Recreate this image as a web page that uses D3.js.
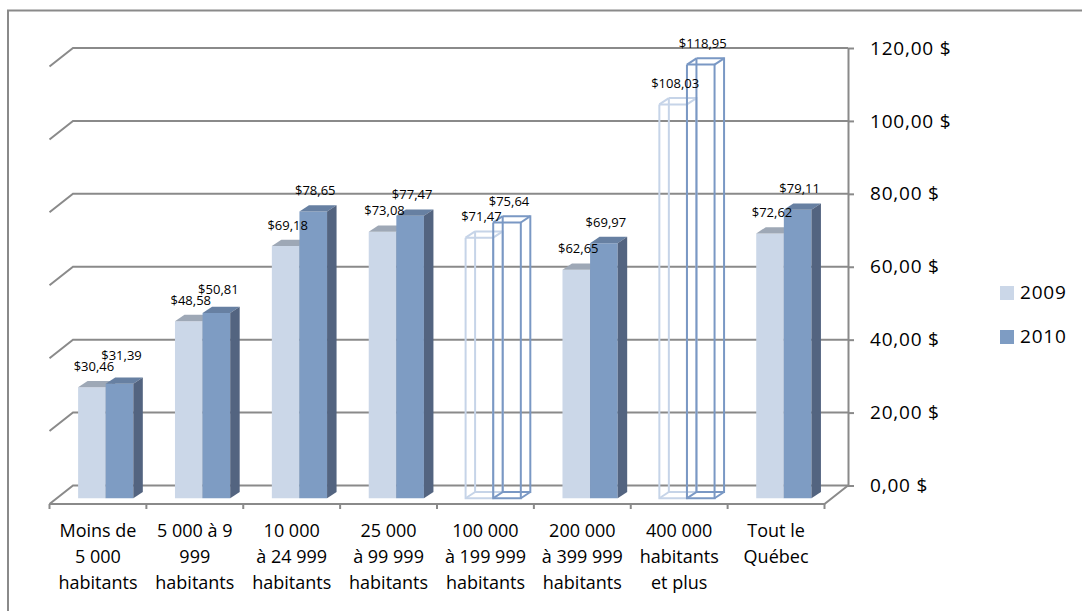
<!DOCTYPE html>
<html>
<head>
<meta charset="utf-8">
<script src="https://cdn.jsdelivr.net/npm/d3@7"></script>
<style>
body { margin: 0; background: #fff; }
text { font-family: "Open Sans", sans-serif; fill: #000; }
</style>
</head>
<body>
<script>
// data
var categories = ["Moins de 5 000 habitants", "5 000 à 9 999 habitants", "10 000 à 24 999 habitants",
  "25 000 à 99 999 habitants", "100 000 à 199 999 habitants", "200 000 à 399 999 habitants",
  "400 000 habitants et plus", "Tout le Québec"];
var categoryLines = [["Moins de", "5 000", "habitants"], ["5 000 à 9", "999", "habitants"],
  ["10 000", "à 24 999", "habitants"], ["25 000", "à 99 999", "habitants"],
  ["100 000", "à 199 999", "habitants"], ["200 000", "à 399 999", "habitants"],
  ["400 000", "habitants", "et plus"], ["Tout le", "Québec"]];
var series = ["2009", "2010"];
var values2009 = [30.46, 48.58, 69.18, 73.08, 71.47, 62.65, 108.03, 72.62];
var values2010 = [31.39, 50.81, 78.65, 77.47, 75.64, 69.97, 118.95, 79.11];
var yTicks = [0, 20, 40, 60, 80, 100, 120];
// these two are drawn only as wire boxes in the original
var hollowCategories = ["100 000 à 199 999 habitants", "400 000 habitants et plus"];

var width = 1082, height = 611;
var wallLeft = 73, wallRight = 848, wallTop = 48, wallBottom = 485.5;
var depthX = -23.5, depthY = 18.5;   // back wall -> front edge of floor
var barZ = 0.69;                      // where the bars' front faces sit
var barDX = 9.5, barDY = -6.3;        // bar depth

var faceColors = {
  "2009": {front: "#cbd7e8", top: "#9ea8b6", side: "#8593a8", wire: "#c6d4e8"},
  "2010": {front: "#7e9cc3", top: "#6780a2", side: "#536480", wire: "#7a98c4"}
};

var rows = categories.map(function(c, i) {
  return {cat: c, lines: categoryLines[i], vals: {"2009": values2009[i], "2010": values2010[i]}};
});

var svg = d3.select('body').append('svg').attr('width', width).attr('height', height);

svg.append('rect').attr('x', 8).attr('y', 10.5).attr('width', 1200).attr('height', 800)
  .style('fill', 'none').style('stroke', '#8a8a8a').style('stroke-width', 2);

var x = d3.scaleBand().domain(categories).range([wallLeft, wallRight]);
var bw = x.bandwidth();
var xs = d3.scaleBand().domain(series).range([bw * 0.22, bw * 0.79]);
var y = d3.scaleLinear().domain([0, 120]).range([wallBottom, wallTop]);

function p(px, py, z) { return [px + depthX * z, py + depthY * z]; }
var line = d3.line();

// back wall gridlines with their diagonal on the side wall
var grid = svg.append('g').style('stroke', '#8a8a8a').style('stroke-width', 2).style('fill', 'none');
yTicks.forEach(function(t) {
  grid.append('path').attr('d', line([p(wallLeft, y(t), 1), [wallLeft, y(t)], [wallRight, y(t)]]));
});
// floor front edge and right diagonal
grid.append('path').attr('d', line([p(wallLeft, y(0), 1), p(wallRight, y(0), 1), [wallRight, y(0)]]));
// category ticks under the floor
categories.concat([null]).forEach(function(c, i) {
  var bx = c ? x(c) : wallRight;
  var a = p(bx, y(0), 1);
  grid.append('path').attr('d', line([a, [a[0], a[1] + 5]]));
});

// y axis on the right
var fmtAxis = d3.formatLocale({decimal: ",", thousands: " ", grouping: [3], currency: ["", " $"]}).format("$.2f");
var fmtLabel = d3.formatLocale({decimal: ",", thousands: " ", grouping: [3], currency: ["$", ""]}).format("$.2f");

var yAxis = svg.append('g').attr('transform', 'translate(' + wallRight + ',0)')
  .call(d3.axisRight(y).tickValues(yTicks).tickSize(6).tickSizeOuter(0).tickPadding(16).tickFormat(fmtAxis));
yAxis.selectAll('path, line').style('stroke', '#8a8a8a').style('stroke-width', 2);
yAxis.selectAll('text').style('font-family', '"Open Sans", sans-serif').style('font-size', '19px')
  .style('letter-spacing', '0.8px').attr('fill', '#000');

// bars
var bars = svg.append('g');
var labelData = [];
rows.forEach(function(r) {
  var hollow = hollowCategories.indexOf(r.cat) >= 0;
  var prevY = null;
  series.forEach(function(s) {
    var v = r.vals[s], col = faceColors[s];
    var x0 = x(r.cat) + xs(s), w = xs.bandwidth();
    var fTL = p(x0, y(v), barZ), fTR = p(x0 + w, y(v), barZ);
    var fBR = p(x0 + w, y(0), barZ), fBL = p(x0, y(0), barZ);
    function back(q) { return [q[0] + barDX, q[1] + barDY]; }
    var bTL = back(fTL), bTR = back(fTR), bBR = back(fBR), bBL = back(fBL);
    if (hollow) {
      var wire = bars.append('g').style('fill', 'none').style('stroke', col.wire).style('stroke-width', 2);
      [[bTL, bTR, bBR, bBL, bTL], [fTL, fTR, fBR, fBL, fTL], [fTL, bTL], [fTR, bTR], [fBR, bBR], [fBL, bBL]]
        .forEach(function(seg) { wire.append('path').attr('d', line(seg)); });
    } else {
      bars.append('path').attr('d', line([fTL, fTR, fBR, fBL]) + 'Z').style('fill', col.front);
      bars.append('path').attr('d', line([fTL, fTR, bTR, bTL]) + 'Z').style('fill', col.top);
      bars.append('path').attr('d', line([fTR, bTR, bBR, fBR]) + 'Z').style('fill', col.side);
    }
    // label sits above the bar; nudged up when it would collide with its neighbour
    var ly = fTL[1] - 16.4;
    if (prevY !== null && ly > prevY - 11) ly = prevY - 11;
    prevY = ly;
    labelData.push({x: (fTL[0] + fTR[0]) / 2 + 2, y: ly, v: v});
  });
});

svg.append('g').selectAll('text').data(labelData).join('text')
  .attr('x', function(d) { return d.x; })
  .attr('y', function(d) { return d.y; })
  .attr('text-anchor', 'middle')
  .style('font-size', '13px')
  .text(function(d) { return fmtLabel(d.v); });

// category labels
var labels = svg.append('g');
rows.forEach(function(r) {
  var c = p(x(r.cat) + bw / 2, y(0), 1);
  var t = labels.append('text').attr('text-anchor', 'middle').style('font-size', '18px');
  r.lines.forEach(function(l, j) {
    t.append('tspan').attr('x', c[0]).attr('y', 537 + j * 26).text(l);
  });
});

// legend
var legend = svg.append('g').attr('transform', 'translate(1000,286)');
series.forEach(function(s, i) {
  legend.append('rect').attr('x', 0).attr('y', i * 44).attr('width', 14).attr('height', 14)
    .style('fill', faceColors[s].front);
  legend.append('text').attr('x', 20).attr('y', i * 44 + 12.5)
    .style('font-size', '19px').style('letter-spacing', '0.8px').text(s);
});
</script>
</body>
</html>
